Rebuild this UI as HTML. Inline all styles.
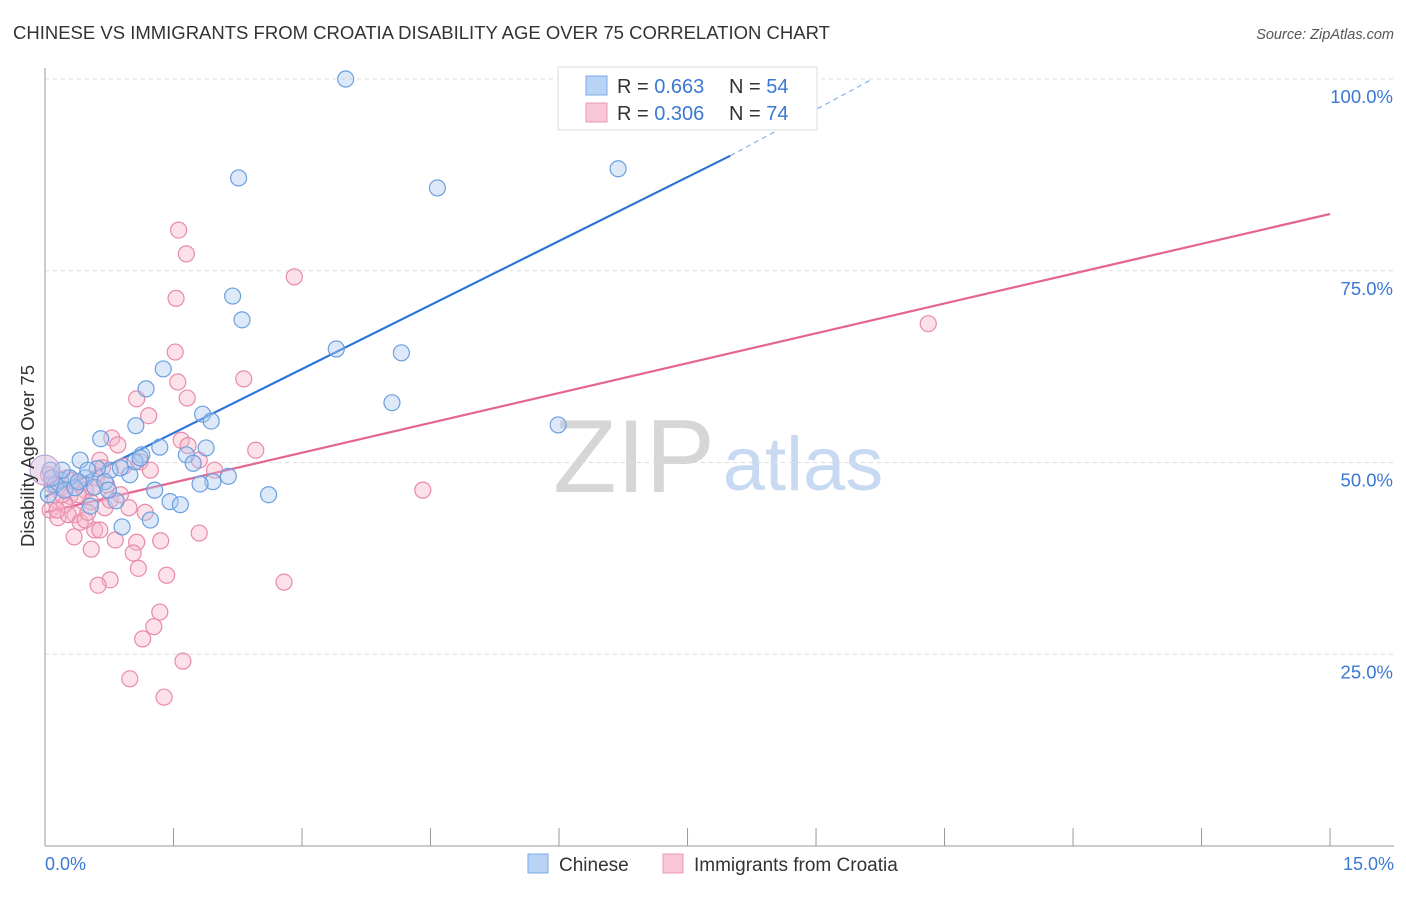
<!DOCTYPE html>
<html><head><meta charset="utf-8"><style>
body{margin:0;background:#fff;font-family:"Liberation Sans",sans-serif;}
svg text{font-family:"Liberation Sans",sans-serif;}
</style></head><body>
<svg id="chart" width="1406" height="892" xmlns="http://www.w3.org/2000/svg">
<text x="13" y="39" font-size="18.5" fill="#333">CHINESE VS IMMIGRANTS FROM CROATIA DISABILITY AGE OVER 75 CORRELATION CHART</text>
<text x="1394" y="39" font-size="14.5" fill="#555" font-style="italic" text-anchor="end">Source: ZipAtlas.com</text>
<g>
<text x="634" y="492" font-size="104" fill="#d6d6d6" font-family="Liberation Serif" text-anchor="middle">ZIP</text>
<text x="803" y="490" font-size="76" fill="#c8daf2" text-anchor="middle">atlas</text>
</g>
<g id="grid"></g>
<g id="axes"></g>
<g id="lines"></g>
<g id="points"></g>
<text transform="translate(34,456) rotate(-90)" font-size="18.5" fill="#333" text-anchor="middle">Disability Age Over 75</text>
<g>
<rect x="558" y="67" width="259" height="63" fill="#fff" stroke="#ddd"/>
<rect x="586" y="76" width="21" height="19" fill="#b9d3f5" stroke="#7aa8e6"/>
<rect x="586" y="103" width="21" height="19" fill="#f9c6d6" stroke="#ec9ab5"/>
<text x="617" y="93" font-size="20" fill="#333">R = <tspan fill="#3a78d4">0.663</tspan></text>
<text x="729" y="93" font-size="20" fill="#333">N = <tspan fill="#3a78d4">54</tspan></text>
<text x="617" y="120" font-size="20" fill="#333">R = <tspan fill="#3a78d4">0.306</tspan></text>
<text x="729" y="120" font-size="20" fill="#333">N = <tspan fill="#3a78d4">74</tspan></text>
</g>
<g>
<rect x="528" y="854" width="20" height="19" fill="#b9d3f5" stroke="#7aa8e6"/>
<text x="559" y="871" font-size="19" fill="#333">Chinese</text>
<rect x="663" y="854" width="20" height="19" fill="#f9c6d6" stroke="#ec9ab5"/>
<text x="694" y="871" font-size="19" fill="#333">Immigrants from Croatia</text>
</g>
</svg>
<script>
const xTicks=[0,1.5,3,4.5,6,7.5,9,10.5,12,13.5,15];
const yTicks=[25,50,75,100];
const yTickLabels=["25.0%","50.0%","75.0%","100.0%"];
const blueX=[3.51,2.26,4.58,6.69,2.19,2.30,3.40,4.16,4.05,5.99,1.38,1.18,1.06,1.84,1.94,0.65,1.34,1.88,1.13,1.65,0.41,1.73,2.14,1.96,1.81,0.99,0.76,0.61,0.88,1.28,1.46,1.58,2.61,0.83,0.53,0.90,1.23,0.18,0.29,0.47,0.06,0.12,0.23,0.35,0.58,0.70,0.04,0.08,0.20,0.39,0.50,0.74,1.05,1.11];
const blueY=[100.0,87.1,85.8,88.3,71.7,68.6,64.8,64.3,57.8,54.9,62.2,59.6,54.8,56.3,55.4,53.1,52.0,51.9,51.0,51.0,50.3,49.9,48.2,47.5,47.2,48.4,49.0,49.2,49.3,46.4,44.9,44.5,45.8,45.0,44.3,41.6,42.5,47.7,48.0,48.0,49.0,47.1,46.4,46.7,46.8,47.5,45.8,48.0,49.0,47.5,49.0,46.4,50.1,50.6];
const pinkX=[1.56,1.65,2.91,1.53,10.31,1.52,1.55,2.32,1.07,1.66,1.21,1.59,0.78,0.85,2.46,1.67,1.80,0.64,1.11,0.92,1.98,1.23,0.60,0.41,0.72,0.47,0.18,0.29,0.12,0.23,0.53,0.06,0.35,0.15,0.27,0.41,0.58,0.47,0.70,0.98,1.17,0.64,0.34,0.82,1.07,1.35,1.80,0.54,1.03,1.09,1.42,0.76,0.62,2.79,1.34,1.27,1.14,1.61,0.99,1.39,4.41,0.04,0.08,0.20,0.32,0.76,0.88,0.14,0.50,0.39,0.25,0.55,0.67];
const pinkY=[80.3,77.2,74.2,71.4,68.1,64.4,60.5,60.9,58.3,58.4,56.1,52.9,53.2,52.3,51.6,52.2,50.3,50.3,50.1,49.5,49.0,49.0,48.0,47.2,47.1,46.4,46.7,45.6,45.1,44.5,44.9,43.8,43.2,42.8,43.2,42.2,41.2,42.5,44.1,44.1,43.5,41.2,40.3,39.9,39.6,39.8,40.8,38.7,38.2,36.2,35.3,34.7,34.0,34.4,30.5,28.6,27.0,24.1,21.8,19.4,46.4,48.4,47.1,45.8,47.7,45.1,45.8,43.8,43.5,45.8,48.0,46.7,49.3];
const blueTrend=[[0,45.5],[8.0,90.0],[9.66,100]];
const pinkTrend=[[0,43.5],[15,82.4]];
const NS="http://www.w3.org/2000/svg";
const sx=v=>45+v*85.67, sy=v=>846-v*7.67;
function mk(tag,attrs,parent){const e=document.createElementNS(NS,tag);for(const k in attrs)e.setAttribute(k,attrs[k]);parent.appendChild(e);return e;}
const grid=document.getElementById('grid'),axes=document.getElementById('axes'),lines=document.getElementById('lines'),pts=document.getElementById('points');
yTicks.forEach((t,i)=>{
 const l=mk('line',{x1:45,x2:1394,y1:sy(t),y2:sy(t),stroke:'#ddd','stroke-dasharray':'4,4'},grid);
 
 
 const tx=mk('text',{x:1393,y:sy(t)+24,'font-size':18.5,fill:'#3a78d4','text-anchor':'end'},axes);
 tx.textContent=yTickLabels[i];
 
 
});
const xa=mk('line',{x1:45,x2:1394,y1:846,y2:846,stroke:'#999'},axes);


const ya=mk('line',{x1:45,x2:45,y1:68,y2:846,stroke:'#999'},axes);


xTicks.forEach(t=>{
 const l=mk('line',{x1:sx(t),x2:sx(t),y1:828,y2:846,stroke:'#999'},axes);
 
 
});
[[0,'0.0%','start',45],[15,'15.0%','end',1394]].forEach(a=>{
 const t=mk('text',{x:a[3],y:870,'font-size':18,fill:'#3a78d4','text-anchor':a[2]},axes);
 t.textContent=a[1];
 
 
});
function drawPts(X,Y,fill,stroke,name){X.forEach((x,i)=>{
 const c=mk('circle',{cx:sx(x),cy:sy(Y[i]),r:8,fill:fill,'fill-opacity':0.4,stroke:stroke,'stroke-width':1.2},pts);
 
 
});}
drawPts(pinkX,pinkY,'#f7b3c9','#e88aa9','croatia-point');
drawPts(blueX,blueY,'#a9c8f0','#6a9fe0','chinese-point');
const big=mk('circle',{cx:sx(0),cy:sy(49),r:15,fill:'#d8c0e0','fill-opacity':0.5,stroke:'#b89ad0'},pts);


const bl=mk('line',{x1:sx(blueTrend[0][0]),y1:sy(blueTrend[0][1]),x2:sx(blueTrend[1][0]),y2:sy(blueTrend[1][1]),stroke:'#2a74d6','stroke-width':2.2},lines);


const bd=mk('line',{x1:sx(blueTrend[1][0]),y1:sy(blueTrend[1][1]),x2:sx(blueTrend[2][0]),y2:sy(blueTrend[2][1]),stroke:'#8ab2e6','stroke-width':1.2,'stroke-dasharray':'5,4'},lines);


const pl=mk('line',{x1:sx(pinkTrend[0][0]),y1:sy(pinkTrend[0][1]),x2:sx(pinkTrend[1][0]),y2:sy(pinkTrend[1][1]),stroke:'#e4668f','stroke-width':2.2},lines);


</script>
</body></html>
